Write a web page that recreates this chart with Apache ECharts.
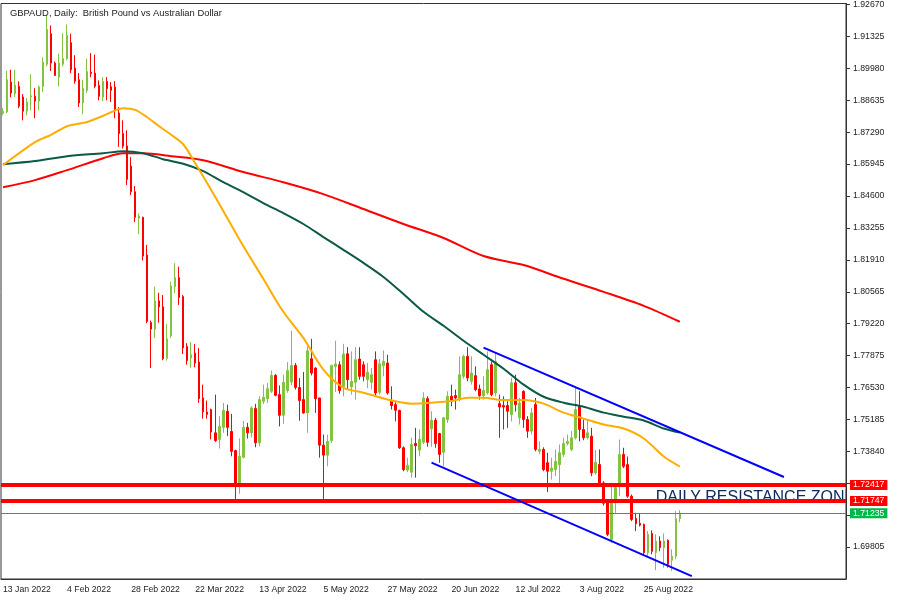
<!DOCTYPE html>
<html><head><meta charset="utf-8">
<script src="https://cdn.jsdelivr.net/npm/echarts@6/dist/echarts.min.js"></script>
<style>html,body{margin:0;padding:0;background:#fff}#c{width:900px;height:600px}</style>
</head><body><div id="c"></div>
<script>
const chartTitle = 'GBPAUD, Daily:  British Pound vs Australian Dollar';
const startDate = '2022-01-13';
const slotCount = 211;
const labelEvery = 16;

const open = [
1.8809,1.8814,1.8940,1.8891,1.8922,1.8877,1.8818,1.8878,1.8880,1.8860,
1.8922,1.9015,1.9144,1.9020,1.8961,1.9015,1.9039,1.9106,1.8999,1.8950,
1.8852,1.8905,1.8982,1.8978,1.8926,1.8877,1.8943,1.8920,1.8919,1.8810,
1.8723,1.8671,1.8586,1.8478,1.8366,1.8370,1.8211,1.7927,1.7899,1.8018,
1.7993,1.7776,1.7871,1.8078,1.8116,1.8036,1.7826,1.7777,1.7798,1.7760,
1.7609,1.7550,1.7560,1.7462,1.7434,1.7485,1.7553,1.7468,1.7387,1.7244,
1.7359,1.7485,1.7462,1.7564,1.7420,1.7595,1.7606,1.7637,1.7704,1.7623,
1.7536,1.7640,1.7676,1.7746,1.7653,1.7602,1.7546,1.7774,1.7735,1.7609,
1.7410,1.7368,1.7429,1.7742,1.7749,1.7658,1.7795,1.7655,1.7675,1.7773,
1.7749,1.7686,1.7675,1.7770,1.7633,1.7745,1.7756,1.7599,1.7581,1.7556,
1.7399,1.7305,1.7296,1.7417,1.7389,1.7422,1.7606,1.7479,1.7515,1.7459,
1.7380,1.7518,1.7616,1.7619,1.7605,1.7700,1.7784,1.7679,1.7703,1.7647,
1.7619,1.7630,1.7749,1.7630,1.7585,1.7577,1.7577,1.7539,1.7673,1.7525,
1.7637,1.7518,1.7469,1.7581,1.7384,1.7392,1.7336,1.7300,1.7307,1.7328,
1.7371,1.7417,1.7392,1.7441,1.7574,1.7476,1.7441,1.7448,1.7293,1.7328,
1.7251,1.7167,1.7013,1.7167,1.7240,1.7371,1.7328,1.7195,1.7101,1.7081,
1.7076,1.6957,1.7038,1.6958,1.7006,1.6978,1.7009,1.6925,1.6942,1.7100];
const high = [
1.8830,1.8987,1.8992,1.8992,1.8943,1.8889,1.8872,1.8973,1.8914,1.8926,
1.9045,1.9225,1.9179,1.9027,1.9060,1.9146,1.9183,1.9144,1.9053,1.8978,
1.8950,1.9039,1.9062,1.9056,1.8947,1.8960,1.8961,1.8940,1.8944,1.8835,
1.8779,1.8737,1.8625,1.8502,1.8387,1.8373,1.8254,1.7935,1.8078,1.8052,
1.8043,1.7921,1.8099,1.8177,1.8162,1.8043,1.7840,1.7844,1.7836,1.7819,
1.7665,1.7598,1.7564,1.7623,1.7532,1.7588,1.7581,1.7542,1.7391,1.7438,
1.7513,1.7504,1.7574,1.7584,1.7616,1.7665,1.7672,1.7724,1.7710,1.7662,
1.7707,1.7760,1.7892,1.7756,1.7693,1.7718,1.7826,1.7858,1.7738,1.7610,
1.7455,1.7455,1.7749,1.7850,1.7763,1.7837,1.7823,1.7805,1.7823,1.7823,
1.7763,1.7756,1.7735,1.7805,1.7773,1.7809,1.7791,1.7658,1.7591,1.7560,
1.7405,1.7357,1.7441,1.7483,1.7476,1.7633,1.7616,1.7553,1.7525,1.7462,
1.7529,1.7637,1.7665,1.7644,1.7784,1.7791,1.7823,1.7784,1.7742,1.7665,
1.7700,1.7805,1.7763,1.7798,1.7623,1.7616,1.7595,1.7693,1.7707,1.7610,
1.7641,1.7532,1.7567,1.7609,1.7426,1.7401,1.7378,1.7357,1.7392,1.7413,
1.7441,1.7455,1.7469,1.7651,1.7637,1.7518,1.7518,1.7483,1.7389,1.7392,
1.7258,1.7174,1.7251,1.7251,1.7434,1.7399,1.7362,1.7202,1.7125,1.7122,
1.7080,1.7048,1.7051,1.7034,1.7026,1.7038,1.7013,1.6971,1.7132,1.7136];
const low = [
1.8800,1.8809,1.8876,1.8877,1.8830,1.8779,1.8800,1.8821,1.8788,1.8821,
1.8898,1.9006,1.8987,1.8966,1.8922,1.9006,1.9032,1.8978,1.8933,1.8835,
1.8804,1.8894,1.8960,1.8914,1.8863,1.8860,1.8863,1.8856,1.8788,1.8667,
1.8660,1.8506,1.8464,1.8350,1.8300,1.8188,1.7924,1.7735,1.7861,1.7926,
1.7768,1.7766,1.7862,1.8050,1.8001,1.7794,1.7749,1.7736,1.7738,1.7588,
1.7522,1.7522,1.7434,1.7424,1.7396,1.7462,1.7448,1.7363,1.7175,1.7205,
1.7354,1.7438,1.7443,1.7401,1.7405,1.7584,1.7588,1.7630,1.7616,1.7489,
1.7500,1.7631,1.7662,1.7644,1.7513,1.7542,1.7462,1.7704,1.7546,1.7357,
1.7175,1.7321,1.7420,1.7634,1.7627,1.7616,1.7647,1.7623,1.7602,1.7686,
1.7679,1.7651,1.7644,1.7616,1.7623,1.7700,1.7623,1.7560,1.7510,1.7394,
1.7300,1.7296,1.7273,1.7273,1.7363,1.7415,1.7403,1.7403,1.7399,1.7336,
1.7321,1.7504,1.7574,1.7560,1.7595,1.7690,1.7679,1.7665,1.7637,1.7602,
1.7602,1.7623,1.7616,1.7616,1.7441,1.7476,1.7483,1.7510,1.7551,1.7497,
1.7483,1.7441,1.7455,1.7384,1.7371,1.7300,1.7212,1.7265,1.7279,1.7237,
1.7361,1.7408,1.7384,1.7434,1.7426,1.7431,1.7434,1.7279,1.7286,1.7244,
1.7156,1.7027,1.6999,1.7125,1.7195,1.7313,1.7188,1.7090,1.7048,1.7067,
1.6950,1.6942,1.6950,1.6883,1.6963,1.6894,1.6894,1.6879,1.6929,1.7085];
const close = [
1.8817,1.8950,1.8894,1.8928,1.8838,1.8817,1.8856,1.8882,1.8860,1.8919,
1.9024,1.9162,1.9020,1.8968,1.9020,1.9039,1.9137,1.8992,1.8944,1.8852,
1.8913,1.8985,1.8976,1.8922,1.8880,1.8943,1.8913,1.8905,1.8821,1.8723,
1.8670,1.8530,1.8478,1.8370,1.8376,1.8207,1.7931,1.7899,1.8018,1.7993,
1.7774,1.7858,1.8081,1.8116,1.8032,1.7820,1.7766,1.7791,1.7756,1.7606,
1.7550,1.7539,1.7466,1.7429,1.7489,1.7556,1.7485,1.7384,1.7244,1.7363,
1.7485,1.7462,1.7567,1.7420,1.7602,1.7612,1.7648,1.7704,1.7620,1.7536,
1.7675,1.7724,1.7746,1.7653,1.7598,1.7546,1.7808,1.7714,1.7606,1.7410,
1.7368,1.7426,1.7746,1.7752,1.7640,1.7794,1.7686,1.7679,1.7770,1.7700,
1.7700,1.7717,1.7707,1.7630,1.7753,1.7763,1.7630,1.7577,1.7557,1.7399,
1.7307,1.7325,1.7413,1.7408,1.7434,1.7609,1.7422,1.7515,1.7417,1.7371,
1.7525,1.7616,1.7595,1.7609,1.7707,1.7784,1.7693,1.7714,1.7644,1.7619,
1.7641,1.7728,1.7623,1.7763,1.7571,1.7571,1.7553,1.7673,1.7581,1.7588,
1.7518,1.7469,1.7546,1.7392,1.7392,1.7307,1.7300,1.7314,1.7342,1.7378,
1.7417,1.7426,1.7441,1.7560,1.7476,1.7441,1.7462,1.7293,1.7338,1.7251,
1.7165,1.7034,1.7167,1.7231,1.7371,1.7321,1.7195,1.7097,1.7079,1.7073,
1.6957,1.7034,1.6963,1.7005,1.6978,1.7006,1.6908,1.6942,1.7100,1.71235];

// moving averages: [bar index, value]
const maOrange = [[0,1.8590],[8,1.8687],[12,1.8718],[16,1.8754],[21,1.8772],[25,1.8798],[28,1.8821],[30,1.8830],[33,1.8823],[36,1.8792],[39,1.8754],[42,1.8718],[45,1.8678],[48,1.8598],[51,1.8514],[55,1.8397],[60,1.8249],[65,1.8111],[70,1.7972],[75,1.7862],[80,1.7728],[85,1.7652],[90,1.7631],[97,1.7598],[102,1.7585],[107,1.7589],[112,1.7596],[116,1.7610],[120,1.7610],[125,1.7600],[130,1.7600],[135,1.7585],[140,1.7547],[145,1.7522],[150,1.7497],[155,1.7480],[160,1.7438],[165,1.7362],[169,1.7320]];
const maGreen = [[0,1.8594],[8,1.8607],[16,1.8628],[25,1.8640],[30,1.8649],[35,1.8640],[40,1.8615],[45,1.8596],[50,1.8565],[55,1.8518],[60,1.8476],[65,1.8430],[70,1.8388],[75,1.8342],[80,1.8287],[85,1.8233],[90,1.8178],[95,1.8119],[100,1.8047],[105,1.7972],[110,1.7913],[115,1.7850],[120,1.7791],[125,1.7732],[130,1.7665],[135,1.7614],[140,1.7589],[145,1.7572],[150,1.7547],[155,1.7530],[160,1.7514],[165,1.7480],[169,1.7463]];
const maRed = [[0,1.8497],[8,1.8527],[16,1.8569],[25,1.8619],[30,1.8640],[35,1.8640],[42,1.8628],[50,1.8611],[60,1.8561],[70,1.8518],[80,1.8468],[90,1.8405],[100,1.8342],[110,1.8283],[120,1.8207],[130,1.8169],[140,1.8111],[150,1.8056],[160,1.7997],[169,1.7930]];

const channelUpper = [[120,1.78209],[195,1.72759]];
const channelLower = [[107,1.73365],[172,1.68584]];
const resistanceLevels = [1.72417, 1.71747];
const lastPrice = 1.71235;
const zoneText = 'DAILY RESISTANCE ZONE';
const zoneAnchor = [163, 1.7221];

const yMin = 1.6846, yMax = 1.92712, yStep = 0.01345;

const months = ['Jan','Feb','Mar','Apr','May','Jun','Jul','Aug','Sep','Oct','Nov','Dec'];
const categories = [];
(function(){
  const d = new Date(startDate + 'T00:00:00Z');
  while (categories.length < slotCount) {
    const wd = d.getUTCDay();
    if (wd !== 0 && wd !== 6) categories.push(d.getUTCDate() + ' ' + months[d.getUTCMonth()] + ' ' + d.getUTCFullYear());
    d.setUTCDate(d.getUTCDate() + 1);
  }
})();

const candleData = open.map((o, i) => [o, close[i], low[i], high[i]]);
const markedLevels = resistanceLevels.concat([lastPrice]);
const FONT = 'Liberation Sans, Arial, sans-serif';
const GREEN = '#82c341', RED = '#ff0000';
const showIdx = (i) => i % labelEvery === 0 && i < close.length;

const levelLine = (v, color, width, bg) => ({
  yAxis: v,
  lineStyle: {color: color, width: width, type: 'solid'},
  label: {show: true, position: 'end', distance: 4, formatter: v.toFixed(5), color: '#fff', backgroundColor: bg,
          fontSize: 8.7, fontFamily: FONT, padding: [1, 3, 0, 3]}
});

const chart = echarts.init(document.getElementById('c'), null, {renderer: 'canvas'});
chart.setOption({
  animation: false,
  backgroundColor: '#ffffff',
  title: {text: chartTitle, left: 5, top: 4, textStyle: {fontSize: 9.4, fontWeight: 'normal', color: '#222', fontFamily: FONT}},
  grid: {left: 1, right: 54, top: 3, bottom: 21, show: true, borderColor: '#333', borderWidth: 1, backgroundColor: 'transparent'},
  xAxis: {
    type: 'category', data: categories, boundaryGap: true,
    axisLine: {lineStyle: {color: '#333', width: 1}},
    axisTick: {alignWithLabel: true, length: 4, interval: showIdx, lineStyle: {color: '#333'}},
    axisLabel: {interval: showIdx, align: 'left', margin: 6, fontSize: 8.7, color: '#222', fontFamily: FONT},
    splitLine: {show: false}
  },
  yAxis: {
    type: 'value', position: 'right', min: yMin, max: yMax, interval: yStep, scale: true,
    axisLine: {show: true, lineStyle: {color: '#333', width: 1}},
    axisTick: {show: true, length: 4, lineStyle: {color: '#333'}},
    splitLine: {show: false},
    axisLabel: {
      showMinLabel: false, showMaxLabel: false, margin: 7, fontSize: 8.7, color: '#222', fontFamily: FONT,
      formatter: (v) => markedLevels.some(l => Math.abs(l - v) < 0.004) ? '' : v.toFixed(5)
    }
  },
  series: [
    {
      type: 'custom', clip: true, z: 1, silent: true,
      data: [zoneAnchor],
      renderItem: (params, api) => {
        const p = api.coord([api.value(0), api.value(1)]);
        return {type: 'text', x: p[0], y: p[1], style: {text: zoneText, fill: '#0c2a60', font: '16px ' + FONT, verticalAlign: 'top', align: 'left'}};
      }
    },
    {
      type: 'candlestick', data: candleData, barWidth: 2, z: 3,
      itemStyle: {color: GREEN, color0: RED, borderColor: GREEN, borderColor0: RED, borderWidth: 1},
      markLine: {
        silent: true, symbol: ['none', 'none'], animation: false, precision: 5,
        data: [
          levelLine(resistanceLevels[0], RED, 4, RED),
          levelLine(resistanceLevels[1], RED, 4, RED),
          levelLine(lastPrice, '#14b03c', 1, '#00b84a')
        ]
      }
    },
    {type: 'line', data: maRed, showSymbol: false, smooth: 0.3, z: 4, lineStyle: {color: '#ff0000', width: 2}},
    {type: 'line', data: maGreen, showSymbol: false, smooth: 0.3, z: 4, lineStyle: {color: '#0b5a48', width: 2}},
    {type: 'line', data: maOrange, showSymbol: false, smooth: 0.3, z: 4, lineStyle: {color: '#ffad00', width: 2}},
    {type: 'line', data: channelUpper, showSymbol: false, z: 5, lineStyle: {color: '#0000ff', width: 2}},
    {type: 'line', data: channelLower, showSymbol: false, z: 5, lineStyle: {color: '#0000ff', width: 2}}
  ]
});
</script></body></html>
